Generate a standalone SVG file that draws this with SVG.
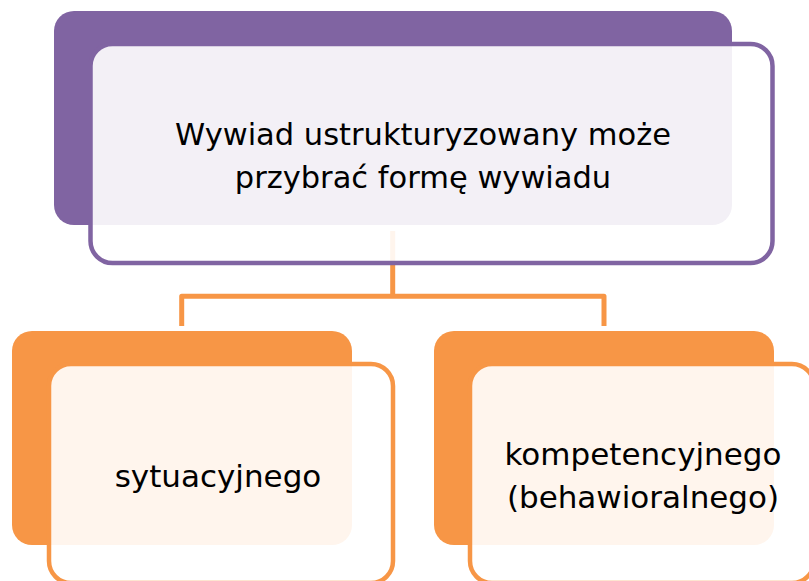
<svg xmlns="http://www.w3.org/2000/svg" width="809" height="581" viewBox="0 0 809 581">
<style>
.back-p{fill:#8064a2}
.front-p{fill:#ffffff;fill-opacity:0.9;stroke:#8064a2;stroke-width:4.5}
.back-o{fill:#f79646}
.front-o{fill:#ffffff;fill-opacity:0.9;stroke:#f79646;stroke-width:4.5}
.conn{fill:none;stroke:#f79646;stroke-width:5;stroke-linejoin:round}
.lbl{font-family:"Comic Sans MS","DejaVu Sans",sans-serif;fill:#000000;text-anchor:middle}
</style>
<rect width="809" height="581" fill="#ffffff"/>
<g id="connectors">
<path class="conn" d="M392.7,231 V296.3"/>
<path class="conn" d="M181.7,326 V296.3 H604 V326"/>
</g>
<g id="node-top">
<rect class="back-p" x="54" y="11" width="678" height="214" rx="20"/>
<rect class="front-p" x="90.5" y="44" width="682" height="219" rx="22"/>
<text class="lbl" font-size="30.5" x="423" y="145">Wywiad ustrukturyzowany może</text>
<text class="lbl" font-size="30.5" x="423" y="188">przybrać formę wywiadu</text>
</g>
<g id="node-left">
<rect class="back-o" x="12" y="331" width="340" height="214" rx="20"/>
<rect class="front-o" x="49" y="364" width="344" height="219" rx="22"/>
<text class="lbl" font-size="31" x="218" y="487">sytuacyjnego</text>
</g>
<g id="node-right">
<rect class="back-o" x="434" y="331" width="340" height="214" rx="20"/>
<rect class="front-o" x="470" y="364" width="344" height="219" rx="22"/>
<text class="lbl" font-size="31" x="643" y="465">kompetencyjnego</text>
<text class="lbl" font-size="31" x="643" y="508">(behawioralnego)</text>
</g>
</svg>
